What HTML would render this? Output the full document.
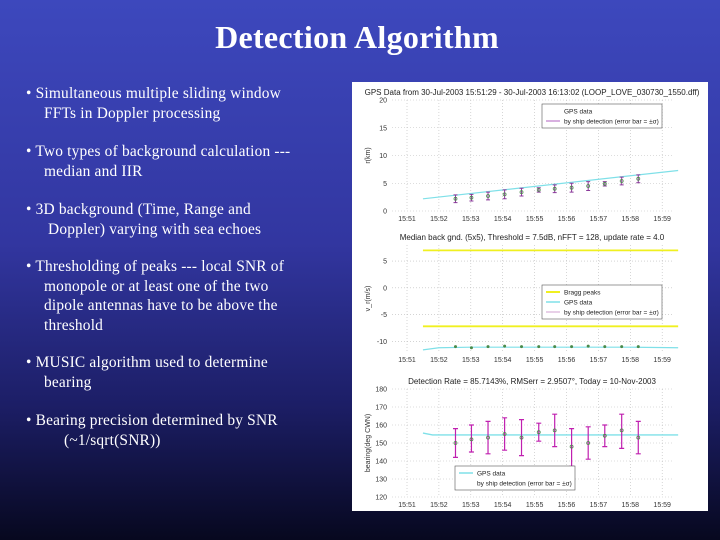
<!DOCTYPE html>
<html><head><meta charset="utf-8"><style>
body{margin:0;width:720px;height:540px;overflow:hidden;background:linear-gradient(180deg,#3d48bd 0%,#3236a0 45%,#1c1e66 75%,#07081f 100%);font-family:"Liberation Serif",serif;color:#fff;position:relative}
h1{position:absolute;left:0;width:714px;top:19px;margin:0;text-align:center;font-size:32px;font-weight:bold;letter-spacing:0.3px}
.b{position:absolute;left:26px;font-size:15.4px;line-height:19.5px;letter-spacing:0.2px}
.b span{display:block;padding-left:18px}
svg text{font-family:"Liberation Sans",sans-serif}
</style></head><body>
<h1>Detection Algorithm</h1>
<div class="b" style="top:84px">• Simultaneous multiple sliding window<span>FFTs in Doppler processing</span></div>
<div class="b" style="top:142px">• Two types of background calculation ---<span>median and IIR</span></div>
<div class="b" style="top:200px">• 3D background (Time, Range and<span style="padding-left:22px">Doppler) varying with sea echoes</span></div>
<div class="b" style="top:257px">• Thresholding of peaks --- local SNR of<span>monopole or at least one of the two<br>dipole antennas have to be above the<br>threshold</span></div>
<div class="b" style="top:353px">• MUSIC algorithm used to determine<span>bearing</span></div>
<div class="b" style="top:411px">• Bearing precision determined by SNR<span style="padding-left:38px">(~1/sqrt(SNR))</span></div>
<svg id="panel" style="position:absolute;left:352px;top:82px" width="356" height="429"></svg>
<script>
const xTicks=["15:51","15:52","15:53","15:54","15:55","15:56","15:57","15:58","15:59"];
const t=[1.52,2.02,2.54,3.06,3.59,4.13,4.63,5.16,5.68,6.2,6.73,7.25];
const rangeVals=[2.2,2.4,2.7,3.0,3.4,3.8,4.0,4.2,4.5,4.9,5.4,5.8];
const rangeErr=[0.7,0.6,0.7,0.8,0.7,0.4,0.7,0.8,0.8,0.4,0.7,0.7];
const gpsRangeT=[0.5,8.5];
const gpsRangeV=[2.2,7.3];
const braggV=[7.0,-7.2];
const velVals=[-11,-11.2,-11,-10.9,-11,-11,-11,-11,-10.9,-11,-11,-11];
const gpsVelT=[0.5,1.0,2,3,4,5,6,7,8.5];
const gpsVelV=[-11.6,-11.2,-11.1,-11.1,-11.1,-11.1,-11.1,-11.1,-11.2];
const bearVals=[150,152,153,155,153,156,157,148,150,154,157,153];
const bearHi=[158,160,162,164,163,161,166,158,159,160,166,162];
const bearLo=[142,145,144,146,143,151,148,137,141,148,147,144];
const gpsBearT=[0.5,0.8,2,3,4,5,6,7,8.5];
const gpsBearV=[155.5,154.5,154.5,154.5,154.5,154.5,154.5,154.5,154.5];

const S=document.getElementById('panel'),NS='http://www.w3.org/2000/svg';
function mk(tag,a,txt){const e=document.createElementNS(NS,tag);for(const k in a)e.setAttribute(k,a[k]);if(txt!=null)e.textContent=txt;S.appendChild(e);return e;}
mk('rect',{x:0,y:0,width:356,height:429,fill:'#fff'});
const X0=40,X1=320,L=55,PX=31.9;
const xs=m=>L+m*PX;
function axes(top,bot,yMin,yMax,yTicks,title,ylab,name){
  const ys=v=>bot-(v-yMin)/(yMax-yMin)*(bot-top);
  const tt=mk('text',{x:180,y:top-5,'font-size':8,'text-anchor':'middle',fill:'#222'},title);
  xTicks.forEach((l,i)=>{const x=xs(i);mk('line',{x1:x,x2:x,y1:top,y2:bot,stroke:'#bbb','stroke-dasharray':'1,2','stroke-width':0.6});
    const tx=mk('text',{x:x,y:bot+10,'font-size':7,'text-anchor':'middle',fill:'#333'},l);});
  yTicks.forEach(v=>{const y=ys(v);mk('line',{x1:X0,x2:X1,y1:y,y2:y,stroke:'#bbb','stroke-dasharray':'1,2','stroke-width':0.6});
    const ty=mk('text',{x:X0-5,y:y+2.5,'font-size':7,'text-anchor':'end',fill:'#333'},v);});
  const yl=mk('text',{x:0,y:0,'font-size':7,'text-anchor':'middle',fill:'#333',transform:`translate(${X0-22},${(top+bot)/2}) rotate(-90)`},ylab);
  
  return ys;
}
function line(T,V,ys,col,w,n){const p=mk('polyline',{points:T.map((m,i)=>xs(m)+','+ys(V[i])).join(' '),fill:'none',stroke:col,'stroke-width':w});}
function legend(x,y,w,items,n){const g=mk('rect',{x:x,y:y,width:w,height:items.length*10+4,fill:'#fff',stroke:'#555','stroke-width':0.6});
  items.forEach((it,i)=>{mk('line',{x1:x+4,x2:x+18,y1:y+7+i*10,y2:y+7+i*10,stroke:it[1],'stroke-width':it[2]});mk('text',{x:x+22,y:y+9.5+i*10,'font-size':6.5,fill:'#222'},it[0]);});}
// chart 1
let ys=axes(18,129,0,20,[0,5,10,15,20],'GPS Data from 30-Jul-2003 15:51:29 - 30-Jul-2003 16:13:02 (LOOP_LOVE_030730_1550.dff)','r(km)','range');
line(gpsRangeT,gpsRangeV,ys,'#7fe0e8',1.2,'gps-range-line');
t.forEach((m,i)=>{const x=xs(m),y=ys(rangeVals[i]),e=rangeErr[i];
  const b=mk('path',{d:`M${x},${ys(rangeVals[i]+e)}V${ys(rangeVals[i]-e)}M${x-2},${ys(rangeVals[i]+e)}h4M${x-2},${ys(rangeVals[i]-e)}h4`,stroke:'#8a3a9a','stroke-width':1,fill:'none'});
  mk('circle',{cx:x,cy:y,r:1.5,fill:'none',stroke:'#4a8a4a','stroke-width':0.8});});
legend(190,22,120,[['GPS data','#fff',1],['by ship detection (error bar = ±σ)','#b060c0',1]],'range-legend');
// chart 2
ys=axes(163,270,-12,8,[5,0,-5,-10],'Median back gnd. (5x5), Threshold = 7.5dB, nFFT = 128, update rate = 4.0','v_r(m/s)','velocity');
braggV.forEach(v=>line([0.5,8.5],[v,v],ys,'#f0f020',1.8,'bragg-line'));
line(gpsVelT,gpsVelV,ys,'#7fe0e8',1.2,'gps-velocity-line');
t.forEach((m,i)=>{const c=mk('circle',{cx:xs(m),cy:ys(velVals[i]),r:1.5,fill:'#4a8a4a'});});
legend(190,203,120,[['Bragg peaks','#f0f020',2],['GPS data','#7fe0e8',1.5],['by ship detection (error bar = ±σ)','#d0a0d0',1]],'velocity-legend');
// chart 3
ys=axes(307,415,120,180,[180,170,160,150,140,130,120],'Detection Rate = 85.7143%, RMSerr = 2.9507°, Today = 10-Nov-2003','bearing(deg CWN)','bearing');
line(gpsBearT,gpsBearV,ys,'#7fe0e8',1.4,'gps-bearing-line');
t.forEach((m,i)=>{const x=xs(m);
  const b=mk('path',{d:`M${x},${ys(bearHi[i])}V${ys(bearLo[i])}M${x-2.5},${ys(bearHi[i])}h5M${x-2.5},${ys(bearLo[i])}h5`,stroke:'#c020b0','stroke-width':1.2,fill:'none'});
  mk('circle',{cx:x,cy:ys(bearVals[i]),r:1.5,fill:'none',stroke:'#4a8a4a','stroke-width':0.8});});
legend(103,384,120,[['GPS data','#7fe0e8',1.5],['by ship detection (error bar = ±σ)','#fff',1]],'bearing-legend');
</script>
</body></html>
